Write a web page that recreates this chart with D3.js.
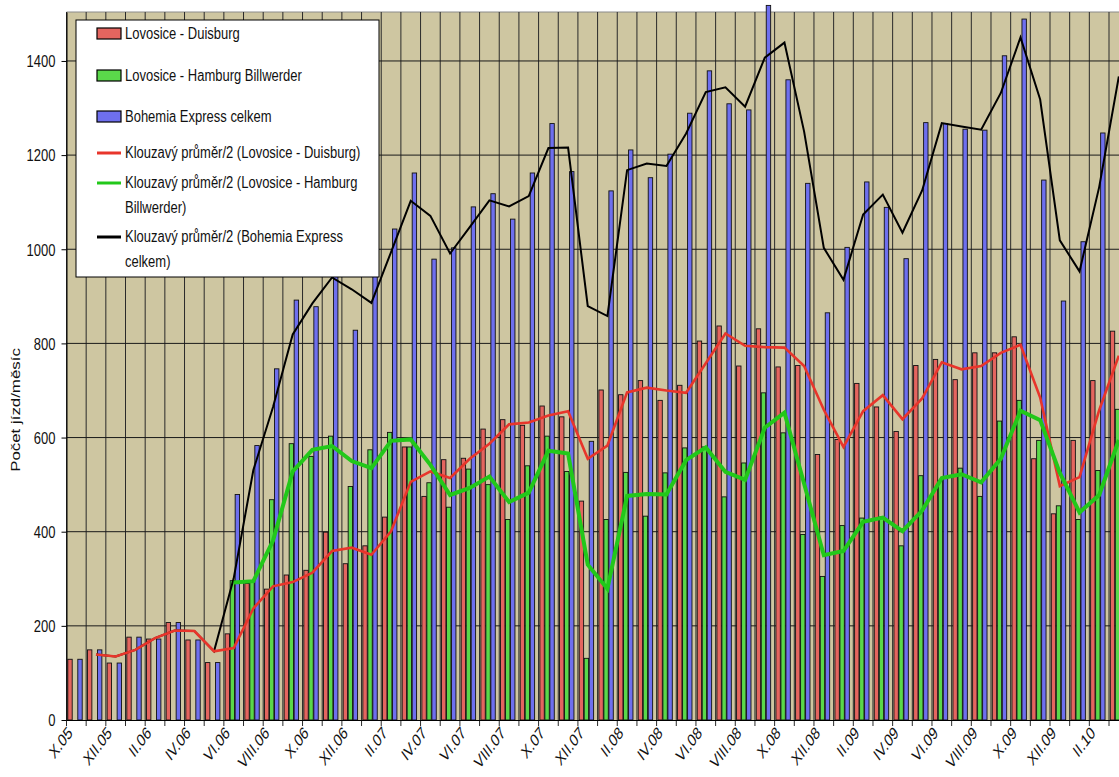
<!DOCTYPE html>
<html>
<head>
<meta charset="utf-8">
<script src="https://cdn.jsdelivr.net/npm/d3@7"></script>
<style>
body { margin: 0; background: #fff; }
svg text { font-family: "Liberation Sans", Arial, sans-serif; fill: #111; }
</style>
</head>
<body>
<script>
// monthly categories X.05 .. III.10
var months = ["X.05","XI.05","XII.05","I.06","II.06","III.06","IV.06","V.06","VI.06","VII.06",
              "VIII.06","IX.06","X.06","XI.06","XII.06","I.07","II.07","III.07","IV.07","V.07",
              "VI.07","VII.07","VIII.07","IX.07","X.07","XI.07","XII.07","I.08","II.08","III.08",
              "IV.08","V.08","VI.08","VII.08","VIII.08","IX.08","X.08","XI.08","XII.08","I.09",
              "II.09","III.09","IV.09","V.09","VI.09","VII.09","VIII.09","IX.09","X.09","XI.09",
              "XII.09","I.10","II.10","III.10"];

var tickLabels = ["X.05","XII.05","II.06","IV.06","VI.06","VIII.06","X.06","XII.06","II.07","IV.07",
                  "VI.07","VIII.07","X.07","XII.07","II.08","IV.08","VI.08","VIII.08","X.08","XII.08",
                  "II.09","IV.09","VI.09","VIII.09","X.09","XII.09","II.10"];

var yTicks = [0, 200, 400, 600, 800, 1000, 1200, 1400];

// Lovosice - Duisburg
var duisburg = [129,149,121,176,172,207,170,122,183,290,278,308,318,399,332,370,431,580,475,553,
                556,618,638,626,667,644,465,701,691,721,679,711,805,837,752,831,750,753,564,596,
                715,665,613,753,766,723,780,780,814,555,438,594,721,826];

// Lovosice - Hamburg Billwerder
var hamburg = [null,null,null,null,null,null,null,null,296,293,468,587,560,603,496,574,611,580,504,452,
               533,500,426,540,603,528,131,426,526,433,525,578,580,474,546,695,610,394,305,413,
               429,431,370,519,509,535,475,635,679,594,455,426,530,660];

// Bohemia Express celkem
var celkem = [129,149,121,176,172,207,170,122,479,583,746,892,878,1002,828,944,1043,1162,979,1003,
              1090,1118,1064,1162,1267,1165,592,1124,1211,1152,1202,1289,1379,1309,1296,1518,1360,1140,865,1004,
              1143,1089,980,1269,1267,1255,1253,1411,1489,1147,890,1016,1247,1486];

// Klouzavy prumer/2 lines
var duisburgMA = [null,139,135,149,174,190,189,146,153,237,284,293,313,359,366,351,401,506,528,514,
                  555,587,628,632,647,656,555,583,696,706,700,695,758,821,795,792,791,752,659,580,
                  656,690,639,683,760,745,752,780,797,685,497,516,658,774];

var hamburgMA = [null,null,null,null,null,null,null,null,292,295,381,528,574,582,550,535,593,596,542,478,
                 493,517,463,483,572,566,330,279,476,480,479,552,579,527,510,621,653,502,350,359,
                 421,430,401,445,514,522,505,555,657,637,525,441,478,595];

var celkemMA = [null,139,135,149,174,190,189,146,301,531,665,819,885,940,915,886,994,1103,1071,991,
                1047,1104,1091,1113,1215,1216,879,858,1168,1182,1177,1246,1334,1344,1303,1407,1439,1250,1003,935,
                1074,1116,1035,1125,1268,1261,1254,1332,1450,1318,1019,953,1132,1367];

var colors = {
    tan: "#cec6a1",
    red: "#e4655f",
    green: "#5ad84a",
    blue: "#6e6fee",
    redLine: "#e8352b",
    greenLine: "#22c81a",
    blackLine: "#000"
};

var width = 1119, height = 777;
// note: "top" is taken by window.top, so plot edges get their own names
var plotLeft = 66.5, plotTop = 12, plotBottom = 720, step = 19.67;

var svg = d3.select("body").append("svg")
            .attr("width", width)
            .attr("height", height);

var x = d3.scaleBand()
          .domain(months)
          .range([plotLeft, plotLeft + step * months.length]);

var xs = d3.scaleBand()
           .domain(["duisburg", "hamburg", "celkem"])
           .range([1.3, 16.3]);

var y = d3.scaleLinear()
          .domain([0, 1504])
          .range([plotBottom, plotTop]);

// plot background
svg.append("rect")
   .attr("x", plotLeft)
   .attr("y", plotTop)
   .attr("width", width - plotLeft)
   .attr("height", plotBottom - plotTop)
   .attr("fill", colors.tan);

svg.append("line")
   .attr("x1", plotLeft).attr("x2", width)
   .attr("y1", plotTop).attr("y2", plotTop)
   .attr("stroke", "#8a8a8a");

// vertical grid at category boundaries
var bounds = months.map(function(m) { return x(m); });
svg.append("g")
   .classed("vgrid", true)
   .selectAll("line")
   .data(bounds)
   .enter()
     .append("line")
     .attr("x1", function(d) { return d; })
     .attr("x2", function(d) { return d; })
     .attr("y1", plotTop)
     .attr("y2", plotBottom + 6)
     .attr("stroke", "#2a2a2a")
     .attr("stroke-width", 1);

// horizontal grid
svg.append("g")
   .classed("hgrid", true)
   .selectAll("line")
   .data(yTicks.slice(1))
   .enter()
     .append("line")
     .attr("x1", plotLeft)
     .attr("x2", width)
     .attr("y1", function(d) { return y(d); })
     .attr("y2", function(d) { return y(d); })
     .attr("stroke", "#1a1a1a")
     .attr("stroke-width", 1);

// bars
var rows = months.map(function(m, i) {
    return { month: m, values: [
        { key: "duisburg", v: duisburg[i], c: colors.red },
        { key: "hamburg", v: hamburg[i], c: colors.green },
        { key: "celkem", v: celkem[i], c: colors.blue }
    ] };
});

svg.append("g")
   .classed("bars", true)
   .selectAll("g")
   .data(rows)
   .enter()
     .append("g")
     .attr("transform", function(d) { return "translate(" + x(d.month) + ",0)"; })
     .selectAll("rect")
     .data(function(d) { return d.values.filter(function(e) { return e.v != null; }); })
     .enter()
       .append("rect")
       .attr("x", function(d) { return xs(d.key); })
       .attr("y", function(d) { return y(d.v); })
       .attr("width", xs.bandwidth() - 0.6)
       .attr("height", function(d) { return plotBottom - y(d.v); })
       .attr("fill", function(d) { return d.c; })
       .attr("stroke", "#111")
       .attr("stroke-width", 0.9);

// moving average lines
var line = d3.line()
    .defined(function(d) { return d.v != null; })
    .x(function(d) { return x(d.m) + x.bandwidth() / 2; })
    .y(function(d) { return y(d.v); });

function asPoints(arr) {
    return months.map(function(m, i) { return { m: m, v: arr[i] }; });
}

svg.append("path")
   .attr("d", line(asPoints(celkemMA)))
   .attr("fill", "none")
   .attr("stroke", colors.blackLine)
   .attr("stroke-width", 2);

svg.append("path")
   .attr("d", line(asPoints(duisburgMA)))
   .attr("fill", "none")
   .attr("stroke", colors.redLine)
   .attr("stroke-width", 2.6);

svg.append("path")
   .attr("d", line(asPoints(hamburgMA)))
   .attr("fill", "none")
   .attr("stroke", colors.greenLine)
   .attr("stroke-width", 4);

// axes
var yAxis = svg.append("g")
   .attr("transform", "translate(" + plotLeft + ",0)")
   .call(d3.axisLeft(y).tickValues(yTicks).tickFormat(d3.format("d")).tickSize(5).tickSizeOuter(0));
yAxis.select(".domain").attr("stroke", "#000");
yAxis.selectAll("text")
     .attr("x", -11)
     .attr("dy", "0.34em")
     .attr("transform", "scale(1,1.3)")
     .style("font-size", "13px");

var xAxis = svg.append("g")
   .attr("transform", "translate(0," + plotBottom + ")")
   .call(d3.axisBottom(x).tickValues(tickLabels).tickSize(0).tickSizeOuter(0));
xAxis.select(".domain").attr("stroke", "#000");
xAxis.selectAll("text")
     .attr("y", null)
     .attr("dy", null)
     .attr("text-anchor", "end")
     .attr("transform", "translate(-3,14) scale(1,1.35) rotate(-45)")
     .style("font-size", "13px");

// axis title
svg.append("text")
   .attr("transform", "translate(20,410) scale(1,1.35) rotate(-90)")
   .attr("text-anchor", "middle")
   .style("font-size", "12.5px")
   .text("Počet jízd/měsíc");

// legend
var legendItems = [
    { type: "bar", color: colors.red, lines: ["Lovosice - Duisburg"], y: 34 },
    { type: "bar", color: colors.green, lines: ["Lovosice - Hamburg Billwerder"], y: 76 },
    { type: "bar", color: colors.blue, lines: ["Bohemia Express celkem"], y: 117 },
    { type: "line", color: colors.redLine, lines: ["Klouzavý průměr/2 (Lovosice - Duisburg)"], y: 153 },
    { type: "line", color: colors.greenLine, lines: ["Klouzavý průměr/2 (Lovosice - Hamburg", "Billwerder)"], y: 183 },
    { type: "line", color: colors.blackLine, lines: ["Klouzavý průměr/2 (Bohemia Express", "celkem)"], y: 237 }
];

var legend = svg.append("g").classed("legend", true);
legend.append("rect")
      .attr("x", 76)
      .attr("y", 20)
      .attr("width", 303)
      .attr("height", 257)
      .attr("fill", "#fff")
      .attr("stroke", "#000");

var item = legend.selectAll("g.item")
      .data(legendItems)
      .enter()
        .append("g")
        .classed("item", true);

item.filter(function(d) { return d.type == "bar"; })
    .append("rect")
    .attr("x", 97)
    .attr("y", function(d) { return d.y - 6; })
    .attr("width", 24)
    .attr("height", 11)
    .attr("fill", function(d) { return d.color; })
    .attr("stroke", "#000")
    .attr("stroke-width", 1.2);

item.filter(function(d) { return d.type == "line"; })
    .append("line")
    .attr("x1", 97).attr("x2", 121)
    .attr("y1", function(d) { return d.y; })
    .attr("y2", function(d) { return d.y; })
    .attr("stroke", function(d) { return d.color; })
    .attr("stroke-width", 3);

item.each(function(d) {
    var g = d3.select(this);
    d.lines.forEach(function(t, k) {
        g.append("text")
         .attr("transform", "translate(125," + (d.y + 5 + k * 25) + ") scale(1,1.2)")
         .style("font-size", "13px")
         .text(t);
    });
});
</script>
</body>
</html>
